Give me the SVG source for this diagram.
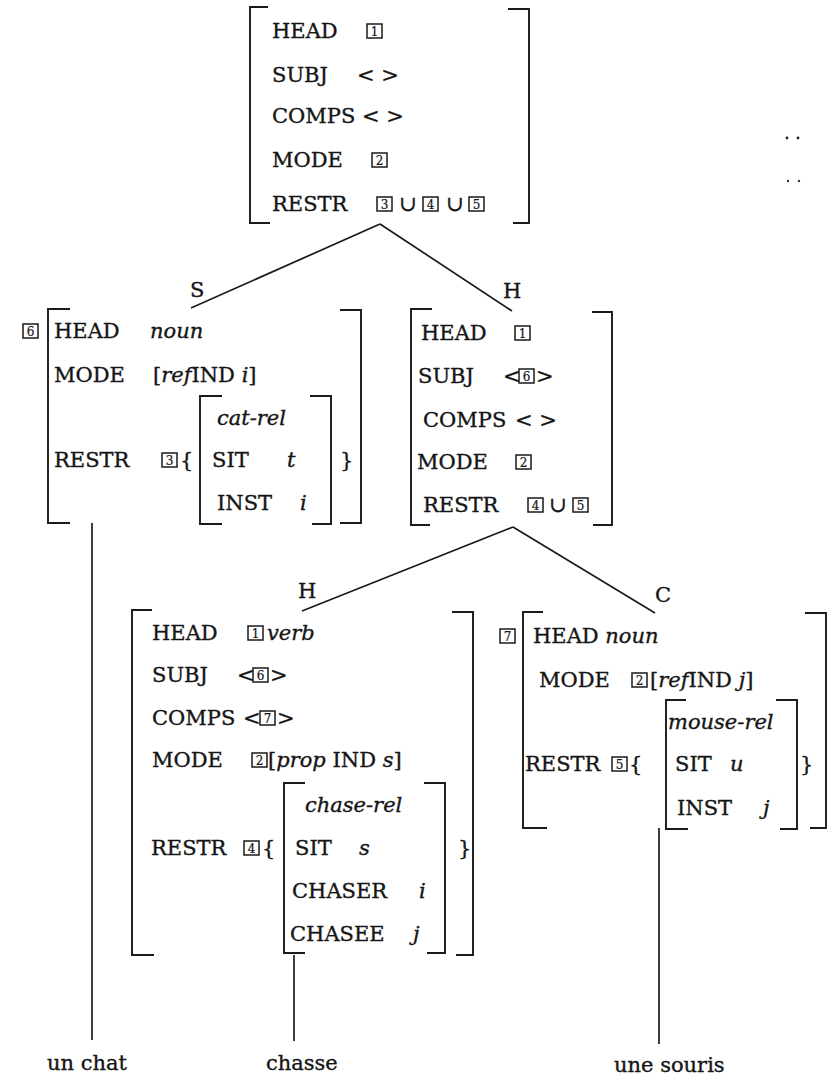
<svg xmlns="http://www.w3.org/2000/svg" width="832" height="1077" viewBox="0 0 832 1077">
<style>
text{font-family:"DejaVu Serif","Liberation Serif",serif;font-size:21px;fill:#151515;stroke:#151515;stroke-width:0.35}
.i{font-style:italic}
.br{fill:none;stroke:#1a1a1a;stroke-width:1.9}
.bx rect{fill:none;stroke:#1a1a1a;stroke-width:1.5}
.bx text{font-size:12px;text-anchor:middle;stroke-width:0.2}
.ln{stroke:#1a1a1a;stroke-width:1.7;fill:none}
</style>
<defs>
<g id="b1" class="bx"><rect x="0" y="0" width="15" height="14"/><text x="7.5" y="12">1</text></g>
<g id="b2" class="bx"><rect x="0" y="0" width="15" height="14"/><text x="7.5" y="12">2</text></g>
<g id="b3" class="bx"><rect x="0" y="0" width="15" height="14"/><text x="7.5" y="12">3</text></g>
<g id="b4" class="bx"><rect x="0" y="0" width="15" height="14"/><text x="7.5" y="12">4</text></g>
<g id="b5" class="bx"><rect x="0" y="0" width="15" height="14"/><text x="7.5" y="12">5</text></g>
<g id="b6" class="bx"><rect x="0" y="0" width="15" height="14"/><text x="7.5" y="12">6</text></g>
<g id="b7" class="bx"><rect x="0" y="0" width="15" height="14"/><text x="7.5" y="12">7</text></g>
</defs>

<g id="connectors">
<line class="ln" x1="380" y1="224" x2="191" y2="308"/>
<line class="ln" x1="380" y1="224" x2="512" y2="311"/>
<line class="ln" x1="513" y1="527" x2="302" y2="611"/>
<line class="ln" x1="513" y1="527" x2="655" y2="613"/>
<line class="ln" x1="92" y1="523" x2="92" y2="1040"/>
<line class="ln" x1="294" y1="955" x2="294" y2="1041"/>
<line class="ln" x1="659" y1="828" x2="659" y2="1044"/>
<text x="190" y="297">S</text>
<text x="503" y="298">H</text>
<text x="298" y="598">H</text>
<text x="655" y="602">C</text>
</g>

<g id="root">
<path class="br" d="M268,7 H250 V223 H270"/>
<path class="br" d="M508,9 H529 V223 H513"/>
<text x="272" y="38">HEAD</text><use href="#b1" x="367" y="24"/>
<text x="272" y="82">SUBJ</text><text x="357" y="82">&lt; &gt;</text>
<text x="272" y="123">COMPS</text><text x="362" y="123">&lt; &gt;</text>
<text x="272" y="167">MODE</text><use href="#b2" x="372" y="153"/>
<text x="272" y="211">RESTR</text><use href="#b3" x="377" y="197"/><text x="399" y="211">∪</text><use href="#b4" x="423" y="197"/><text x="446" y="211">∪</text><use href="#b5" x="469" y="197"/>
</g>

<g id="dots">
<circle cx="787" cy="138" r="1.4" fill="#222"/><circle cx="798" cy="138" r="1.4" fill="#222"/>
<circle cx="788" cy="181" r="1.2" fill="#333"/><circle cx="799" cy="181" r="1.2" fill="#333"/>
</g>

<g id="subject">
<use href="#b6" x="23" y="324"/>
<path class="br" d="M70,309 H48 V523 H70"/>
<path class="br" d="M340,310 H361 V523 H340"/>
<text x="54" y="338">HEAD</text><text class="i" x="150" y="338">noun</text>
<text x="54" y="382">MODE</text><text x="153" y="382">[<tspan class="i">ref</tspan>IND <tspan class="i">i</tspan>]</text>
<path class="br" d="M222,396 H200 V524 H222"/>
<path class="br" d="M310,396 H331 V524 H312"/>
<text class="i" x="217" y="425">cat-rel</text>
<text x="54" y="467">RESTR</text><use href="#b3" x="162" y="453"/><text x="180" y="467">{</text>
<text x="212" y="467">SIT</text><text class="i" x="287" y="467">t</text>
<text x="340" y="467">}</text>
<text x="217" y="510">INST</text><text class="i" x="300" y="510">i</text>
</g>

<g id="head-phrase">
<path class="br" d="M432,309 H411 V525 H430"/>
<path class="br" d="M592,312 H612 V525 H593"/>
<text x="421" y="340">HEAD</text><use href="#b1" x="515" y="326"/>
<text x="418" y="383">SUBJ</text><text x="503" y="383">&lt;</text><use href="#b6" x="519" y="369"/><text x="536" y="383">&gt;</text>
<text x="423" y="427">COMPS</text><text x="515" y="427">&lt; &gt;</text>
<text x="417" y="469">MODE</text><use href="#b2" x="516" y="455"/>
<text x="423" y="512">RESTR</text><use href="#b4" x="528" y="498"/><text x="549" y="512">∪</text><use href="#b5" x="573" y="498"/>
</g>

<g id="verb">
<path class="br" d="M152,610 H132 V955 H154"/>
<path class="br" d="M452,612 H473 V955 H456"/>
<text x="152" y="640">HEAD</text><use href="#b1" x="248" y="626"/><text class="i" x="267" y="640">verb</text>
<text x="152" y="682">SUBJ</text><text x="237" y="682">&lt;</text><use href="#b6" x="253" y="668"/><text x="270" y="682">&gt;</text>
<text x="152" y="725">COMPS</text><text x="243" y="725">&lt;</text><use href="#b7" x="260" y="711"/><text x="277" y="725">&gt;</text>
<text x="152" y="767">MODE</text><use href="#b2" x="252" y="753"/><text x="268" y="767">[<tspan class="i">prop</tspan> IND <tspan class="i">s</tspan>]</text>
<path class="br" d="M305,783 H284 V953 H305"/>
<path class="br" d="M424,783 H445 V953 H427"/>
<text class="i" x="305" y="812">chase-rel</text>
<text x="151" y="855">RESTR</text><use href="#b4" x="244" y="841"/><text x="262" y="855">{</text>
<text x="295" y="855">SIT</text><text class="i" x="359" y="855">s</text>
<text x="458" y="855">}</text>
<text x="292" y="898">CHASER</text><text class="i" x="419" y="898">i</text>
<text x="290" y="941">CHASEE</text><text class="i" x="413" y="941">j</text>
</g>

<g id="complement">
<use href="#b7" x="500" y="629"/>
<path class="br" d="M543,612 H523 V828 H547"/>
<path class="br" d="M805,613 H826 V828 H810"/>
<text x="533" y="643">HEAD <tspan class="i">noun</tspan></text>
<text x="539" y="687">MODE</text><use href="#b2" x="632" y="673"/><text x="650" y="687">[<tspan class="i">ref</tspan>IND <tspan class="i">j</tspan>]</text>
<path class="br" d="M686,700 H666 V829 H688"/>
<path class="br" d="M776,700 H797 V829 H780"/>
<text class="i" x="668" y="729">mouse-rel</text>
<text x="525" y="771">RESTR</text><use href="#b5" x="612" y="757"/><text x="629" y="771">{</text>
<text x="675" y="771">SIT</text><text class="i" x="730" y="771">u</text>
<text x="800" y="771">}</text>
<text x="677" y="815">INST</text><text class="i" x="763" y="815">j</text>
</g>

<g id="words">
<text x="47" y="1070">un chat</text>
<text x="266" y="1070">chasse</text>
<text x="614" y="1072">une souris</text>
</g>
</svg>
